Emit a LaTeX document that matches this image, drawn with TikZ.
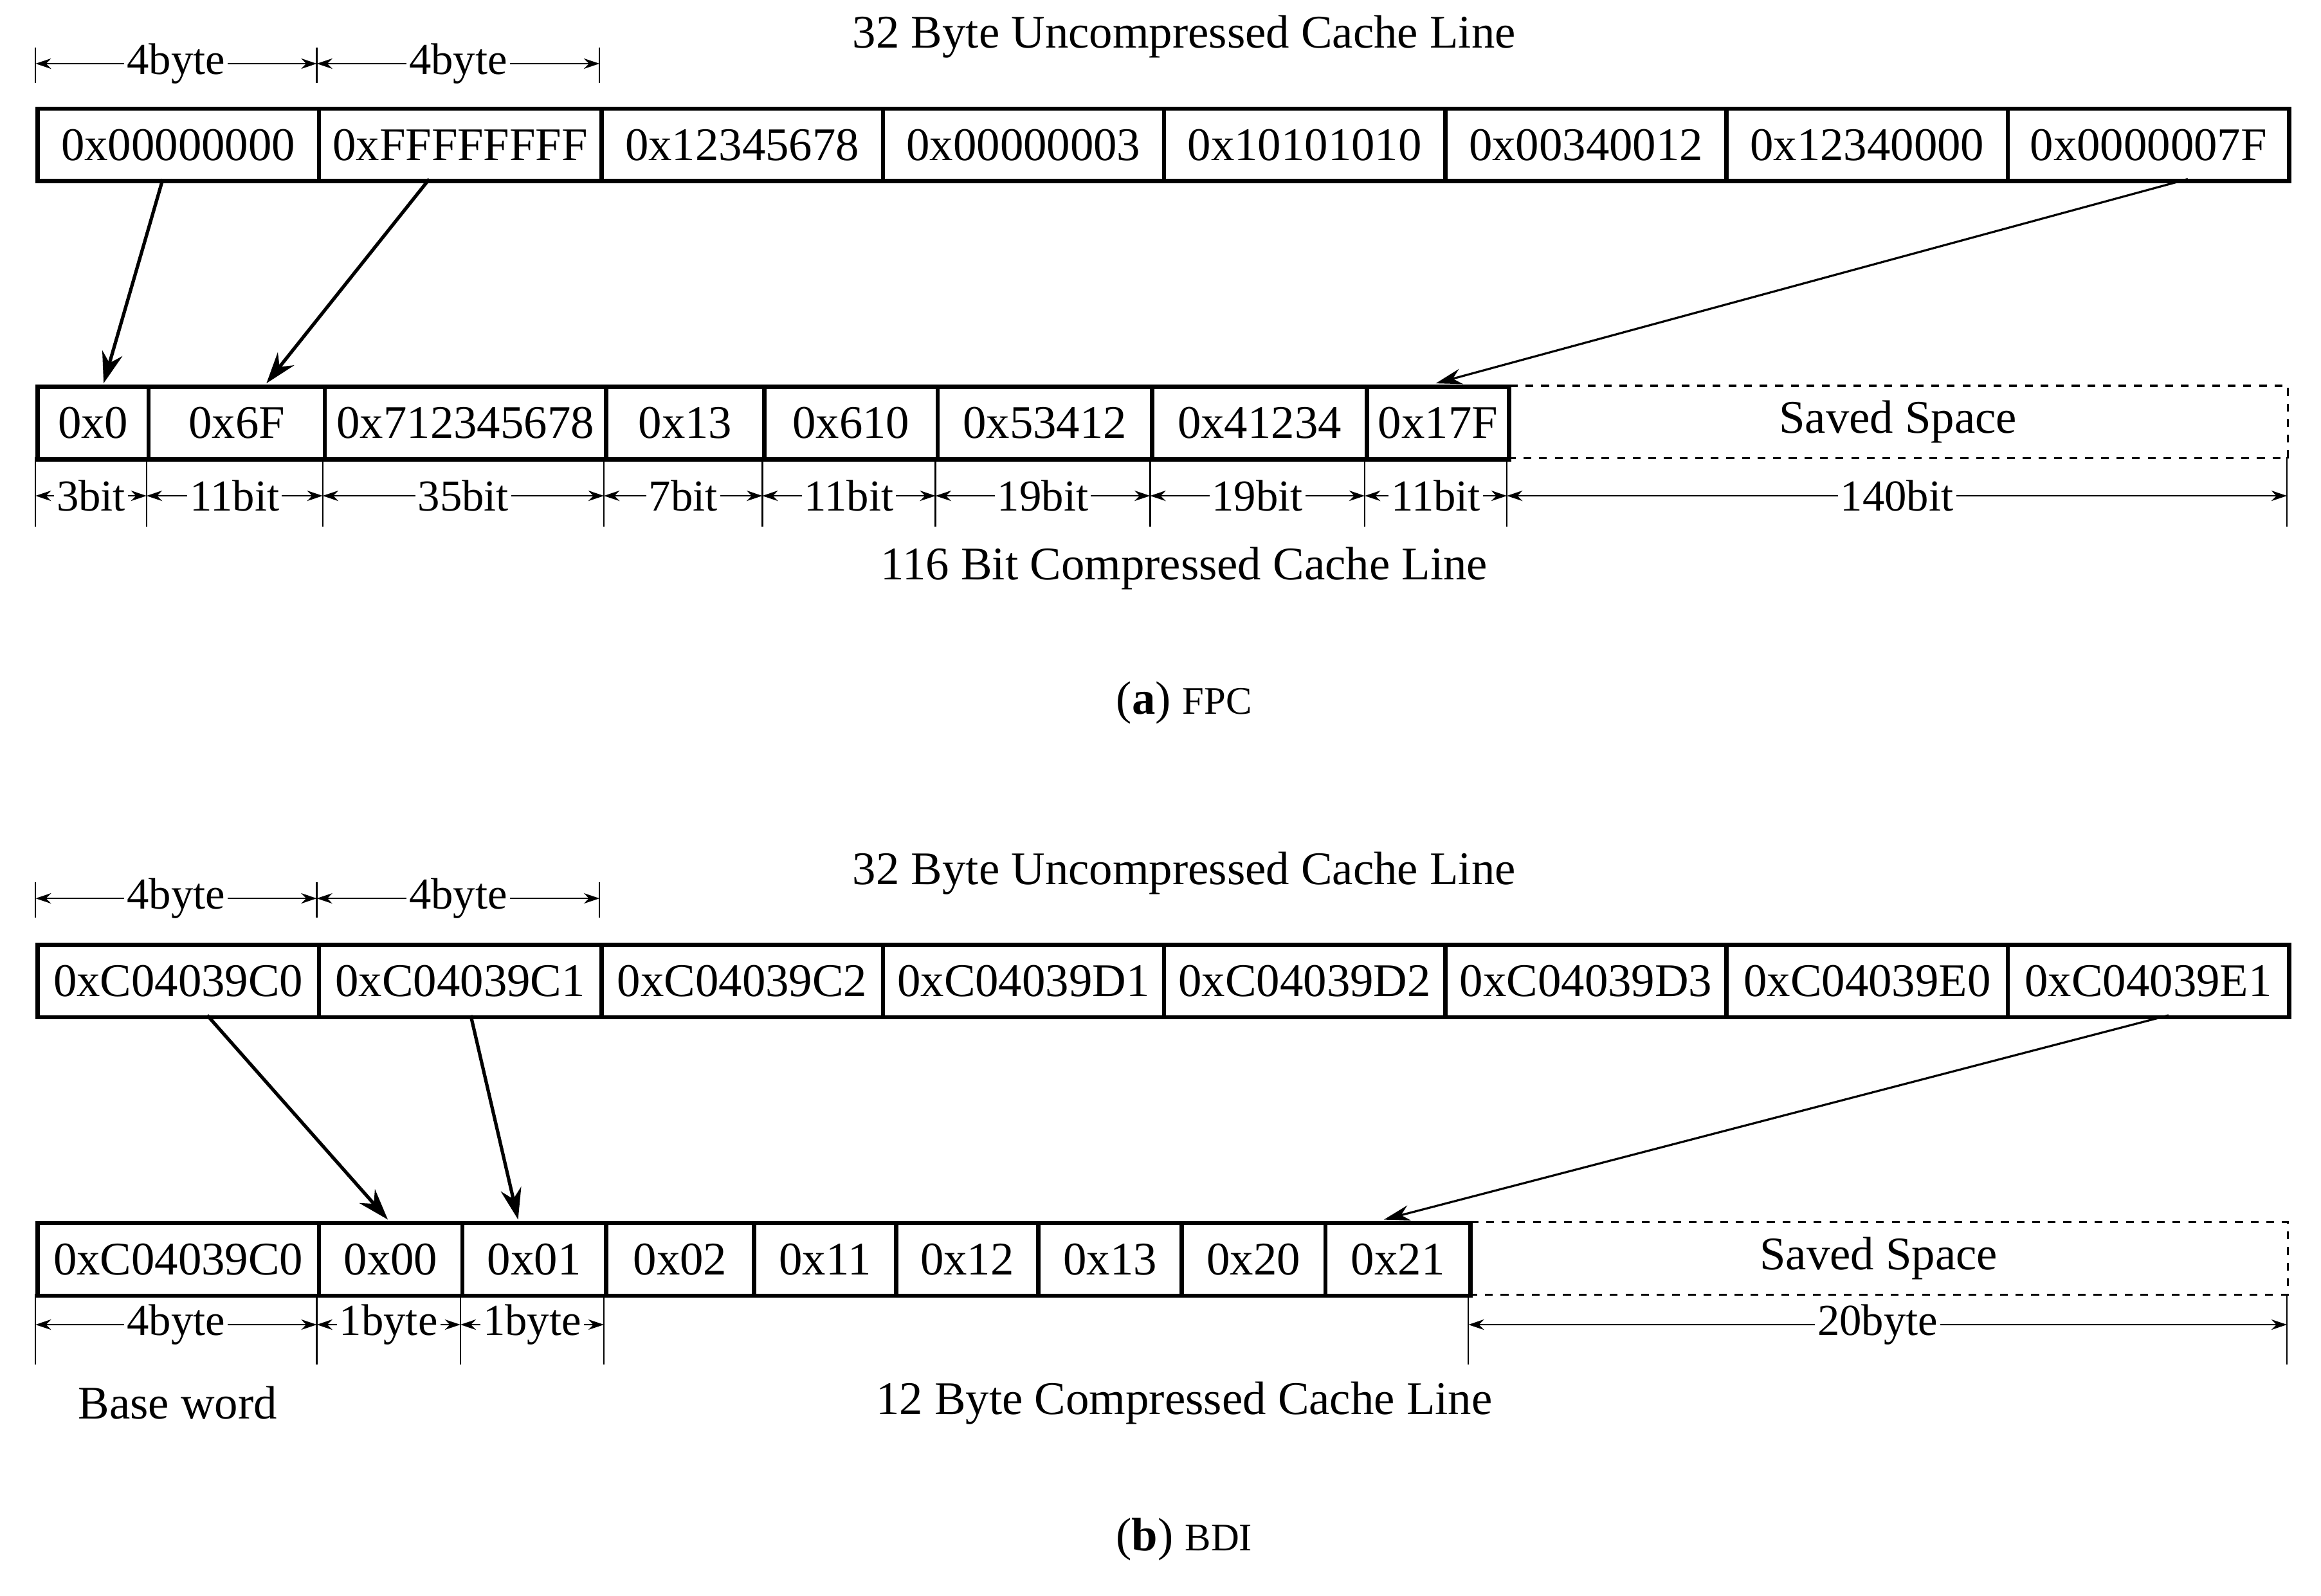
\documentclass[tikz,border=0pt]{standalone}
\usepackage{fontspec}
\setmainfont{Liberation Serif}
\usetikzlibrary{arrows.meta}
\begin{document}
\begin{tikzpicture}[x=0.02cm,y=-0.02cm,
  cell/.style={draw,line width=1.6pt,minimum height=0.98cm,inner sep=0pt,font=\fontsize{18}{20}\selectfont},
  lbl/.style={font=\fontsize{18}{20}\selectfont},
  dimtxt/.style={fill=white,inner sep=1pt,font=\fontsize{17}{19}\selectfont},
  dim/.style={{Stealth[length=6pt,width=4pt]}-{Stealth[length=6pt,width=4pt]},line width=0.6pt},
  tick/.style={line width=0.6pt},
  conn/.style={-{Stealth[length=12pt,width=8pt]},line width=1.3pt},
  thin/.style={-{Stealth[length=10pt,width=6pt]},line width=0.8pt}]
\useasboundingbox (0,0) rectangle (1568,1078);
\newcommand{\mkcell}[5]{\node[cell,minimum width={(#3-#2)*0.02cm},anchor=north west] (#1) at (#2,#4) {#5};}
\newcommand{\dimseg}[4]{\draw[dim] (#1,#3) -- node[dimtxt]{#4} (#2,#3);}
% ---------- (a) ----------
\node[lbl] (ta) at (800,25) {32 Byte Uncompressed Cache Line};
\foreach \x in {24,214,405} \draw[tick] (\x,32) -- (\x,56);
\dimseg{24}{214}{43}{4byte}
\dimseg{214}{405}{43}{4byte}
\mkcell{a1}{24}{214}{72}{0x00000000}
\mkcell{a2}{214}{405}{72}{0xFFFFFFFF}
\mkcell{a3}{405}{595}{72}{0x12345678}
\mkcell{a4}{595}{785}{72}{0x00000003}
\mkcell{a5}{785}{975}{72}{0x10101010}
\mkcell{a6}{975}{1165}{72}{0x00340012}
\mkcell{a7}{1165}{1355}{72}{0x12340000}
\mkcell{a8}{1355}{1545}{72}{0x0000007F}
\mkcell{c1}{24}{99}{260}{0x0}
\mkcell{c2}{99}{218}{260}{0x6F}
\mkcell{c3}{218}{408}{260}{0x712345678}
\mkcell{c4}{408}{515}{260}{0x13}
\mkcell{c5}{515}{632}{260}{0x610}
\mkcell{c6}{632}{777}{260}{0x53412}
\mkcell{c7}{777}{922}{260}{0x41234}
\mkcell{c8}{922}{1018}{260}{0x17F}
\node[draw,dashed,line width=0.8pt,minimum width=527*0.02cm,minimum height=0.98cm,anchor=north west,font=\fontsize{18}{20}\selectfont] (sa) at (1018,260) {Saved Space};
\foreach \x in {24,99,218,408,515,632,777,922,1018,1545} \draw[tick] (\x,309) -- (\x,356);
\dimseg{24}{99}{335}{3bit}
\dimseg{99}{218}{335}{11bit}
\dimseg{218}{408}{335}{35bit}
\dimseg{408}{515}{335}{7bit}
\dimseg{515}{632}{335}{11bit}
\dimseg{632}{777}{335}{19bit}
\dimseg{777}{922}{335}{19bit}
\dimseg{922}{1018}{335}{11bit}
\dimseg{1018}{1545}{335}{140bit}
\node[lbl] (ba) at (800,384) {116 Bit Compressed Cache Line};
\node[lbl] (capa) at (800,475) {(\textbf{a}) {\fontsize{15}{17}\selectfont FPC}};
\coordinate (p1) at (110,121); \coordinate (q1) at (70,259);
\coordinate (p2) at (290,121); \coordinate (q2) at (180,259);
\coordinate (p3) at (1478,121); \coordinate (q3) at (970,259);
\draw[conn] (p1) -- (q1);
\draw[conn] (p2) -- (q2);
\draw[thin] (p3) -- (q3);
% ---------- (b) ----------
\node[lbl] (tb) at (800,590) {32 Byte Uncompressed Cache Line};
\foreach \x in {24,214,405} \draw[tick] (\x,596) -- (\x,620);
\dimseg{24}{214}{607}{4byte}
\dimseg{214}{405}{607}{4byte}
\mkcell{b1}{24}{214}{637}{0xC04039C0}
\mkcell{b2}{214}{405}{637}{0xC04039C1}
\mkcell{b3}{405}{595}{637}{0xC04039C2}
\mkcell{b4}{595}{785}{637}{0xC04039D1}
\mkcell{b5}{785}{975}{637}{0xC04039D2}
\mkcell{b6}{975}{1165}{637}{0xC04039D3}
\mkcell{b7}{1165}{1355}{637}{0xC04039E0}
\mkcell{b8}{1355}{1545}{637}{0xC04039E1}
\mkcell{d1}{24}{214}{825}{0xC04039C0}
\mkcell{d2}{214}{311}{825}{0x00}
\mkcell{d3}{311}{408}{825}{0x01}
\mkcell{d4}{408}{508}{825}{0x02}
\mkcell{d5}{508}{604}{825}{0x11}
\mkcell{d6}{604}{700}{825}{0x12}
\mkcell{d7}{700}{797}{825}{0x13}
\mkcell{d8}{797}{894}{825}{0x20}
\mkcell{d9}{894}{992}{825}{0x21}
\node[draw,dashed,line width=0.8pt,minimum width=553*0.02cm,minimum height=0.98cm,anchor=north west,font=\fontsize{18}{20}\selectfont] (sb) at (992,825) {Saved Space};
\foreach \x in {24,214,311,408,992,1545} \draw[tick] (\x,874) -- (\x,922);
\dimseg{24}{214}{895}{4byte}
\dimseg{214}{311}{895}{1byte}
\dimseg{311}{408}{895}{1byte}
\dimseg{992}{1545}{895}{20byte}
\node[lbl] (bw) at (120,948) {Base word};
\node[lbl] (bb) at (800,948) {12 Byte Compressed Cache Line};
\node[lbl] (capb) at (800,1040) {(\textbf{b}) {\fontsize{15}{17}\selectfont BDI}};
\coordinate (r1) at (140,686); \coordinate (s1) at (262,824);
\coordinate (r2) at (318,686); \coordinate (s2) at (350,824);
\coordinate (r3) at (1465,686); \coordinate (s3) at (935,824);
\draw[conn] (r1) -- (s1);
\draw[conn] (r2) -- (s2);
\draw[thin] (r3) -- (s3);
\end{tikzpicture}
\end{document}
